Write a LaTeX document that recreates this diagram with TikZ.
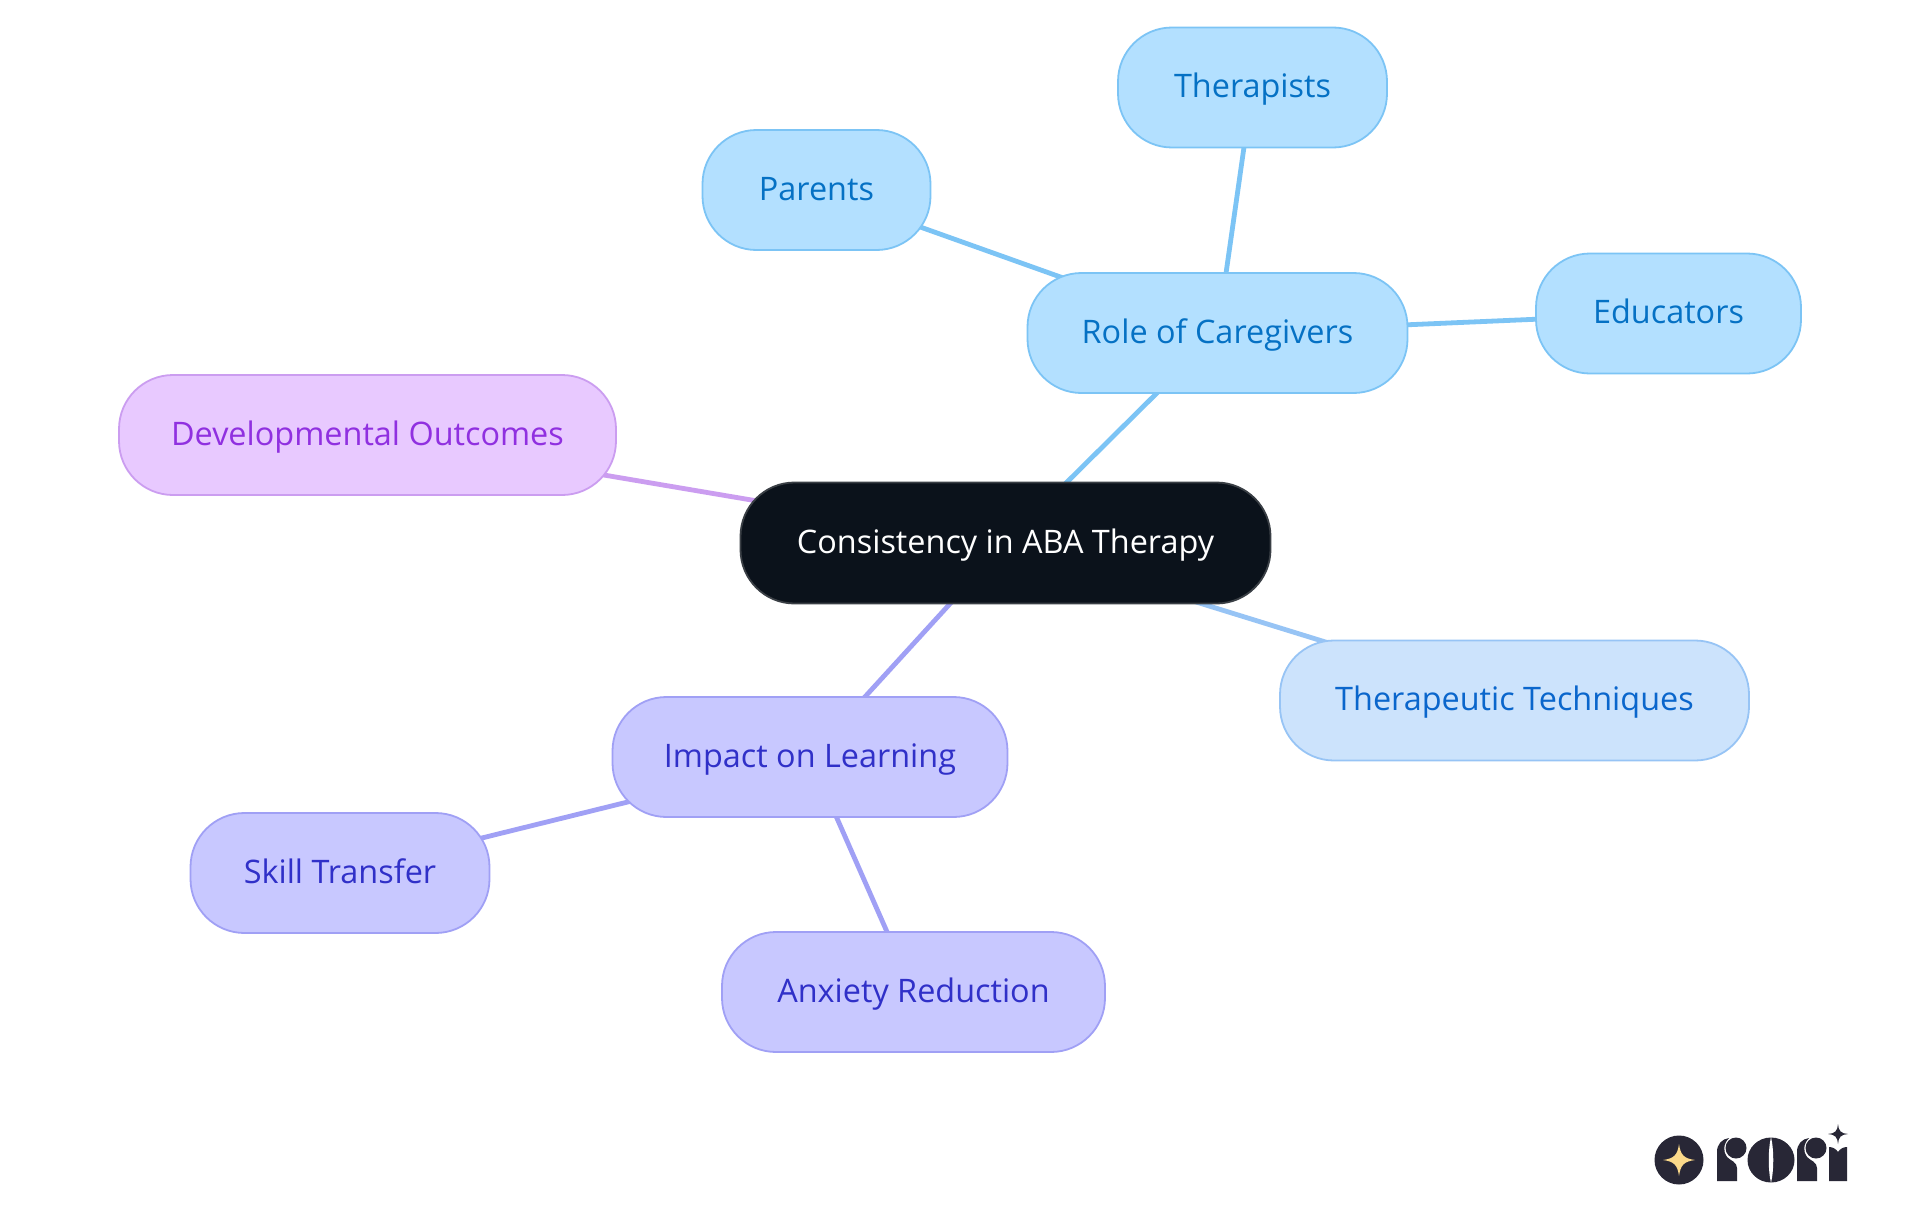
\documentclass[tikz,border=0pt]{standalone}
\usepackage{fontspec}
\setmainfont{Open Sans}
\usetikzlibrary{backgrounds}
\definecolor{skyfill}{HTML}{B3E0FF}\definecolor{skyline}{HTML}{7CC4F5}\definecolor{skytext}{HTML}{0571C4}
\definecolor{lavfill}{HTML}{C8C8FF}\definecolor{lavline}{HTML}{A0A0F5}\definecolor{lavtext}{HTML}{3030C8}
\definecolor{purfill}{HTML}{E8C9FF}\definecolor{purline}{HTML}{CB9DF0}\definecolor{purtext}{HTML}{9030E0}
\definecolor{palefill}{HTML}{CCE3FC}\definecolor{paleline}{HTML}{97C4F5}\definecolor{paletext}{HTML}{0A66CC}
\definecolor{rootfill}{HTML}{0B121B}\definecolor{rootline}{HTML}{3A3F45}
\definecolor{logodark}{HTML}{282736}\definecolor{logogold}{HTML}{FBD98A}
\tikzset{
  mapnode/.style={rectangle,rounded corners=54pt,line width=1.8pt,inner sep=0pt,
    text height=26pt,text depth=6pt,font=\fontsize{32.4}{38}\selectfont,minimum height=120pt},
  sky/.style={mapnode,fill=skyfill,draw=skyline,text=skytext},
  lav/.style={mapnode,fill=lavfill,draw=lavline,text=lavtext},
  pur/.style={mapnode,fill=purfill,draw=purline,text=purtext},
  pale/.style={mapnode,fill=palefill,draw=paleline,text=paletext},
  rootnode/.style={mapnode,fill=rootfill,draw=rootline,text=white,minimum height=121pt},
  edge/.style={line width=4.8pt},
}
\begin{document}
\begin{tikzpicture}[x=1pt,y=-1pt]
\useasboundingbox (0,0) rectangle (1920,1215);
\node[rootnode,minimum width=530pt] (root) at (1005.5,543) {Consistency in ABA Therapy};
\node[sky,minimum width=380pt] (role) at (1217.5,333) {Role of Caregivers};
\node[sky,minimum width=269pt] (ther) at (1252.5,87.5) {Therapists};
\node[sky,minimum width=228pt] (par) at (816.5,190) {Parents};
\node[sky,minimum width=265pt] (edu) at (1668.5,313.5) {Educators};
\node[pur,minimum width=497pt] (dev) at (367.5,435) {Developmental Outcomes};
\node[pale,minimum width=469pt] (tech) at (1514.5,700.5) {Therapeutic Techniques};
\node[lav,minimum width=395pt] (imp) at (810,757) {Impact on Learning};
\node[lav,minimum width=299pt] (skill) at (340,873) {Skill Transfer};
\node[lav,minimum width=383pt] (anx) at (913.5,992) {Anxiety Reduction};
\begin{scope}[on background layer]
\fill[white] (0,0) rectangle (1920,1215);
\draw[edge,skyline] (root.center) -- (role.center);
\draw[edge,skyline] (role.center) -- (ther.center);
\draw[edge,skyline] (role.center) -- (par.center);
\draw[edge,skyline] (role.center) -- (edu.center);
\draw[edge,purline] (root.center) -- (dev.center);
\draw[edge,paleline] (root.center) -- (tech.center);
\draw[edge,lavline] (root.center) -- (imp.center);
\draw[edge,lavline] (imp.center) -- (skill.center);
\draw[edge,lavline] (imp.center) -- (anx.center);
\end{scope}
% logo
\fill[logodark] (1679,1160) circle (24.5);
\fill[logogold] (1679,1144) .. controls (1680.5,1155) and (1684,1158.5) .. (1695,1160)
  .. controls (1684,1161.5) and (1680.5,1165) .. (1679,1176)
  .. controls (1677.5,1165) and (1674,1161.5) .. (1663,1160)
  .. controls (1674,1158.5) and (1677.5,1155) .. (1679,1144) -- cycle;
\foreach \dx in {0,80}{
 \fill[logodark] (1717+\dx,1181) -- (1717+\dx,1152) .. controls (1717+\dx,1144) and (1722+\dx,1139) .. (1729+\dx,1138)
   .. controls (1723+\dx,1144) and (1723+\dx,1152) .. (1727+\dx,1157) .. controls (1731+\dx,1161) and (1737+\dx,1162) .. (1737+\dx,1168) -- (1737+\dx,1181) -- cycle;
 \fill[logodark] (1736+\dx,1148) circle (10.5);
}
\fill[logodark] (1771,1160) ellipse (23.5 and 22.5);
\fill[white] (1771,1137) .. controls (1768,1150) and (1768,1170) .. (1771,1183) .. controls (1774,1170) and (1774,1150) .. (1771,1137) -- cycle;
\fill[logodark] (1829,1181) -- (1829,1147) .. controls (1833,1147) and (1836,1149) .. (1838,1152) .. controls (1840,1149) and (1843,1147) .. (1847,1147) -- (1847,1181) -- cycle;
\fill[logodark] (1838,1124) .. controls (1838.5,1131) and (1841,1133.5) .. (1848,1134)
  .. controls (1841,1134.5) and (1838.5,1137) .. (1838,1144)
  .. controls (1837.5,1137) and (1835,1134.5) .. (1828,1134)
  .. controls (1835,1133.5) and (1837.5,1131) .. (1838,1124) -- cycle;
\end{tikzpicture}
\end{document}
